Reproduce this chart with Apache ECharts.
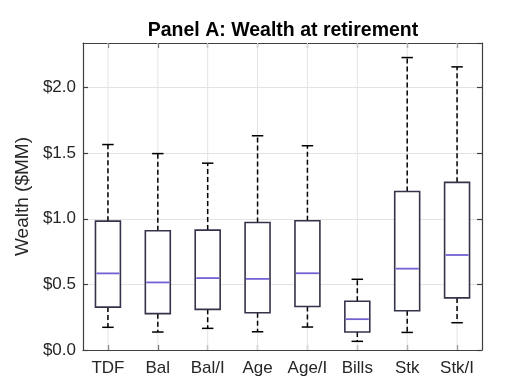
<!DOCTYPE html>
<html>
<head>
<meta charset="utf-8">
<script src="https://cdn.jsdelivr.net/npm/echarts@6/dist/echarts.min.js"></script>
<style>html,body{margin:0;padding:0;background:#fff}#c{width:511px;height:384px}</style>
</head>
<body>
<div id="c"></div>
<script>
const categories = ['TDF', 'Bal', 'Bal/I', 'Age', 'Age/I', 'Bills', 'Stk', 'Stk/I'];
const whiskerLow  = [0.173, 0.137, 0.165, 0.139, 0.175, 0.066, 0.134, 0.208];
const q1          = [0.327, 0.277, 0.310, 0.284, 0.332, 0.137, 0.299, 0.397];
const medians     = [0.584, 0.515, 0.548, 0.542, 0.585, 0.235, 0.620, 0.724];
const q3          = [0.982, 0.909, 0.914, 0.972, 0.985, 0.372, 1.208, 1.278];
const whiskerHigh = [1.566, 1.497, 1.424, 1.633, 1.557, 0.539, 2.229, 2.158];
const yTicks = [0, 0.5, 1.0, 1.5, 2.0];

const data = categories.map((c, i) => [i, whiskerLow[i], q1[i], medians[i], q3[i], whiskerHigh[i]]);

const FONT = '"Liberation Sans", Arial, Helvetica, sans-serif';
const TXT = '#262626';
const FRAME = '#404040';
const GRID = '#e3e3e3';

const chart = echarts.init(document.getElementById('c'));

function renderBox(params, api) {
  const x = api.value(0);
  const lo = api.coord([x, api.value(1)]);
  const b1 = api.coord([x, api.value(2)]);
  const md = api.coord([x, api.value(3)]);
  const b3 = api.coord([x, api.value(4)]);
  const hi = api.coord([x, api.value(5)]);
  const unit = api.size([1, 0])[0];
  const bw = unit * 0.5;
  const cw = unit * 0.23;
  const cx = lo[0];
  const dashStyle = { stroke: '#000', lineWidth: 1.5, lineDash: [5, 3], fill: null };
  const solid = { stroke: '#000', lineWidth: 1.5, fill: null };
  return {
    type: 'group',
    children: [
      { type: 'line', shape: { x1: cx, y1: b3[1], x2: cx, y2: hi[1] }, style: dashStyle },
      { type: 'line', shape: { x1: cx, y1: b1[1], x2: cx, y2: lo[1] }, style: dashStyle },
      { type: 'line', shape: { x1: cx - cw / 2, y1: hi[1], x2: cx + cw / 2, y2: hi[1] }, style: solid },
      { type: 'line', shape: { x1: cx - cw / 2, y1: lo[1], x2: cx + cw / 2, y2: lo[1] }, style: solid },
      { type: 'rect', shape: { x: cx - bw / 2, y: b3[1], width: bw, height: b1[1] - b3[1] },
        style: { stroke: '#33334a', lineWidth: 1.6, fill: '#ffffff' } },
      { type: 'line', shape: { x1: cx - bw / 2 + 1, y1: md[1], x2: cx + bw / 2 - 1, y2: md[1] },
        style: { stroke: '#7461d4', lineWidth: 1.8 } }
    ]
  };
}

function renderGridLine(params, api) {
  const x = api.value(0);
  const p = api.coord([x, 0]);
  const cs = params.coordSys;
  return {
    type: 'line',
    shape: { x1: p[0], y1: cs.y, x2: p[0], y2: cs.y + cs.height },
    style: { stroke: GRID, lineWidth: 1 }
  };
}

const isTick = v => yTicks.some(t => Math.abs(t - v) < 1e-9);

chart.setOption({
  animation: false,
  backgroundColor: '#ffffff',
  title: {
    text: 'Panel A: Wealth at retirement',
    left: 278, top: 16, textAlign: 'center',
    textStyle: { fontFamily: FONT, fontSize: 19.5, fontWeight: 'bold', color: '#000' }
  },
  grid: { left: 83, right: 29, top: 43, bottom: 34, containLabel: false },
  xAxis: [
    {
      type: 'category', data: categories, boundaryGap: true, position: 'bottom',
      axisLine: { show: true, onZero: false, lineStyle: { color: FRAME, width: 1.2 } },
      axisTick: { show: true, inside: true, alignWithLabel: true, length: 5, lineStyle: { color: FRAME, width: 1.2 } },
      axisLabel: { fontFamily: FONT, fontSize: 17, color: TXT, margin: 10, interval: 0 },
      splitLine: { show: false }
    },
    {
      type: 'category', data: categories, boundaryGap: true, position: 'top',
      axisLine: { show: true, onZero: false, lineStyle: { color: FRAME, width: 1.2 } },
      axisTick: { show: true, inside: true, alignWithLabel: true, length: 5, lineStyle: { color: FRAME, width: 1.2 } },
      axisLabel: { show: false },
      splitLine: { show: false }
    }
  ],
  yAxis: [
    {
      type: 'value', min: 0, max: 2.34, interval: 0.5, position: 'left',
      name: 'Wealth ($MM)', nameLocation: 'middle', nameGap: 38,
      nameTextStyle: { fontFamily: FONT, fontSize: 19, color: TXT },
      axisLine: { show: true, onZero: false, lineStyle: { color: FRAME, width: 1.2 } },
      axisTick: { show: true, inside: true, length: 5, lineStyle: { color: FRAME, width: 1.2 } },
      axisLabel: {
        fontFamily: FONT, fontSize: 17, color: TXT, margin: 7,
        formatter: v => isTick(v) ? '$' + v.toFixed(1) : '',
        showMaxLabel: false
      },
      splitLine: { show: true, lineStyle: { color: GRID, width: 1 } }
    },
    {
      type: 'value', min: 0, max: 2.34, interval: 0.5, position: 'right',
      axisLine: { show: true, onZero: false, lineStyle: { color: FRAME, width: 1.2 } },
      axisTick: { show: true, inside: true, length: 5, lineStyle: { color: FRAME, width: 1.2 } },
      axisLabel: { show: false },
      splitLine: { show: false }
    }
  ],
  series: [
    {
      type: 'custom', xAxisIndex: 0, yAxisIndex: 0,
      renderItem: renderGridLine,
      encode: { x: 0, y: 1 },
      data: data, z: 1, silent: true
    },
    {
      type: 'custom', xAxisIndex: 0, yAxisIndex: 0,
      renderItem: renderBox,
      encode: { x: 0, y: [1, 2, 3, 4, 5] },
      data: data, z: 3
    }
  ]
});
</script>
</body>
</html>
